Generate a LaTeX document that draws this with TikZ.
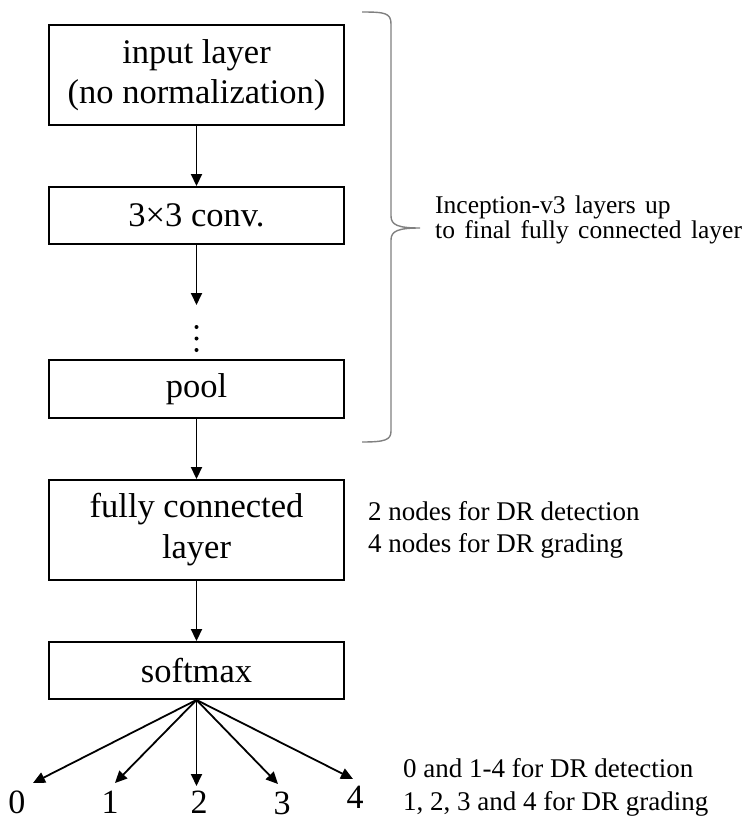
\documentclass[tikz,border=0pt]{standalone}
\usepackage{fontspec}
\setmainfont{Liberation Serif}
\usetikzlibrary{arrows.meta}
\begin{document}
\begin{tikzpicture}[x=1pt,y=-1pt,
  layerbox/.style={draw, line width=1.9pt, minimum width=295pt, inner sep=0pt, align=center, font=\fontsize{34.5}{41}\selectfont},
  conn/.style={line width=1.8pt, -{Triangle[length=12pt,width=11pt]}},
  note/.style={anchor=west, align=left, inner sep=0pt},
  digit/.style={inner sep=0pt, font=\fontsize{34}{40}\selectfont},
  bracestyle/.style={draw=black!50, line width=1.4pt}]
\useasboundingbox (0,0) rectangle (750,822);
% boxes
\node[layerbox, minimum height=100pt] (in) at (196.5,75) {input layer\\[-1pt](no normalization)};
\node[layerbox, minimum height=57pt] (conv) at (196.5,215.5) {3×3 conv.};
\node[layerbox, minimum height=58pt] (pool) at (196.5,389) {pool};
\node[layerbox, minimum height=100pt] (fc) at (196.5,530) {fully connected\\layer};
\node[layerbox, minimum height=57pt] (soft) at (196.5,670.5) {softmax};
% vertical dots
\fill (196.5,327) circle (2pt);
\fill (196.5,338.5) circle (2pt);
\fill (196.5,350) circle (2pt);
\coordinate (dotstop) at (196.5,305);
% connectors
\draw[conn] (in.south) -- (conv.north);
\draw[conn] (conv.south) -- (dotstop);
\draw[conn] (pool.south) -- (fc.north);
\draw[conn] (fc.south) -- (soft.north);
% outputs
\coordinate (t0) at (33,783);
\coordinate (t1) at (115,783);
\coordinate (t2) at (196.5,786);
\coordinate (t3) at (278,784);
\coordinate (t4) at (353,779);
\foreach \i in {0,...,4} {\draw[conn] (soft.south) -- (t\i);}
\node[digit] (o0) at (17,802) {0};
\node[digit] (o1) at (110,802) {1};
\node[digit] (o2) at (199,802) {2};
\node[digit] (o3) at (282,803) {3};
\node[digit] (o4) at (355,797) {4};
% brace
\draw[bracestyle] (362,12) .. controls (385,12) and (391,13) .. (391,24)
  -- (391,216) .. controls (391,225) and (398,228) .. (420,228)
  .. controls (398,228) and (391,231) .. (391,240)
  -- (391,431) .. controls (391,440) and (385,442) .. (362,442);
% notes
\node[note, font={\fontsize{25.5}{25}\selectfont\spaceskip=0.37em\relax}] (incnote) at (435,220)
  {Inception-v3 layers up\\to final fully connected layer};
\node[note, font=\fontsize{27}{32}\selectfont] (fcnote) at (368,530)
  {2 nodes for DR detection\\4 nodes for DR grading};
\node[note, font=\fontsize{27}{33}\selectfont] (outnote) at (403,787)
  {0 and 1-4 for DR detection\\1, 2, 3 and 4 for DR grading};
\end{tikzpicture}
\end{document}
